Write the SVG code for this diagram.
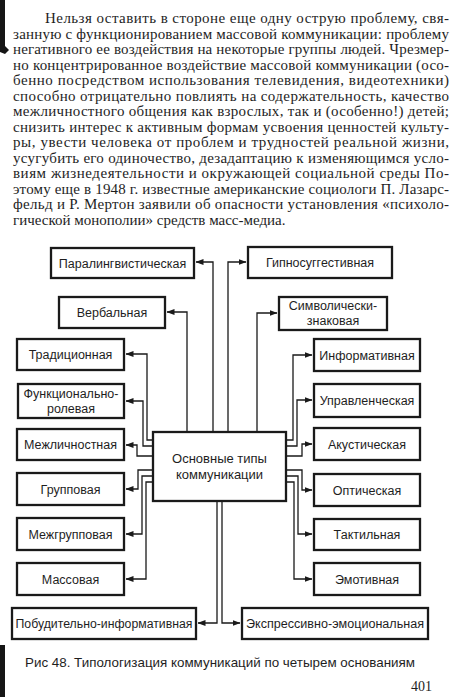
<svg xmlns="http://www.w3.org/2000/svg" width="456" height="697" viewBox="0 0 456 697">
<style>
.body{font-family:"Liberation Serif","Times New Roman",serif;font-size:15px;fill:#1e1e1e}
.box rect{fill:#fff;stroke:#1a1a1a;stroke-width:2.3}
.box text{font-family:"Liberation Sans",Arial,sans-serif;font-size:12.5px;fill:#1e1e1e;text-anchor:middle}
.cap{font-family:"Liberation Sans",Arial,sans-serif;font-size:13px;fill:#1e1e1e}
.conn path{fill:none;stroke:#1a1a1a;stroke-width:1.3;marker-end:url(#ah)}
</style>
<defs>
<marker id="ah" markerUnits="userSpaceOnUse" markerWidth="8" markerHeight="7" refX="7.5" refY="3" orient="auto">
<path d="M0,0 L8,3 L0,6 z" fill="#1a1a1a"/>
</marker>
</defs>
<rect x="0" y="0" width="456" height="697" fill="#fff"/>
<path d="M0,0 H5 V46 L9,50 L5,54 L0,52 z" fill="#151515"/>
<rect x="0" y="645" width="5" height="52" fill="#151515"/>

<g id="paragraph" class="body">
<text x="45" y="23" textLength="404" lengthAdjust="spacing">Нельзя оставить в стороне еще одну острую проблему, свя-</text>
<text x="13" y="38.5" textLength="436" lengthAdjust="spacing">занную с функционированием массовой коммуникации: проблему</text>
<text x="13" y="54" textLength="436" lengthAdjust="spacing">негативного ее воздействия на некоторые группы людей. Чрезмер-</text>
<text x="13" y="69.5" textLength="436" lengthAdjust="spacing">но концентрированное воздействие массовой коммуникации (осо-</text>
<text x="13" y="85" textLength="436" lengthAdjust="spacing">бенно посредством использования телевидения, видеотехники)</text>
<text x="13" y="100.5" textLength="436" lengthAdjust="spacing">способно отрицательно повлиять на содержательность, качество</text>
<text x="13" y="116" textLength="436" lengthAdjust="spacing">межличностного общения как взрослых, так и (особенно!) детей;</text>
<text x="13" y="131.5" textLength="436" lengthAdjust="spacing">снизить интерес к активным формам усвоения ценностей культу-</text>
<text x="13" y="147" textLength="436" lengthAdjust="spacing">ры, увести человека от проблем и трудностей реальной жизни,</text>
<text x="13" y="162.5" textLength="436" lengthAdjust="spacing">усугубить его одиночество, дезадаптацию к изменяющимся усло-</text>
<text x="13" y="178" textLength="436" lengthAdjust="spacing">виям жизнедеятельности и окружающей социальной среды  По-</text>
<text x="13" y="193.5" textLength="436" lengthAdjust="spacing">этому еще в 1948 г. известные американские социологи П. Лазарс-</text>
<text x="13" y="209" textLength="436" lengthAdjust="spacing">фельд и Р. Мертон заявили об опасности установления «психоло-</text>
<text x="13" y="224.5">гической монополии» средств масс-медиа.</text>
</g>

<g id="connectors" class="conn">
<path d="M213,432 V262 H196"/>
<path d="M187,432 V312 H167"/>
<path d="M153,440 H147 V354 H126"/>
<path d="M153,446 H143 V401 H126"/>
<path d="M153,456 H137 V445 H126"/>
<path d="M153,470 H138 V489 H126"/>
<path d="M153,476 H142 V534 H126"/>
<path d="M153,482 H146 V579 H126"/>
<path d="M228,432 V262 H246"/>
<path d="M257,432 V313 H277"/>
<path d="M286,440 H293 V355 H312"/>
<path d="M286,446 H297 V400 H312"/>
<path d="M286,456 H302 V444 H312"/>
<path d="M286,470 H302 V490 H312"/>
<path d="M286,476 H298 V534 H312"/>
<path d="M286,482 H294 V579 H312"/>
<path d="M217,501 V623 H198"/>
<path d="M222,501 V623 H240"/>
</g>

<g id="center" class="box"><rect x="153" y="432" width="133" height="69"/><text x="219.5" y="463" style="font-size:13px">Основные типы</text><text x="219.5" y="479" style="font-size:13px">коммуникации</text></g>

<g id="paralinguistic" class="box"><rect x="51" y="248" width="143" height="30"/><text x="122.5" y="267.5">Паралингвистическая</text></g>
<g id="verbal" class="box"><rect x="59" y="297" width="106" height="31"/><text x="112" y="317">Вербальная</text></g>
<g id="traditional" class="box"><rect x="17" y="339" width="107" height="31"/><text x="70.5" y="359">Традиционная</text></g>
<g id="functional" class="box"><rect x="18" y="384" width="106" height="34"/><text x="71" y="398">Функционально-</text><text x="71" y="413">ролевая</text></g>
<g id="interpersonal" class="box"><rect x="17" y="429" width="107" height="31"/><text x="70.5" y="449">Межличностная</text></g>
<g id="group" class="box"><rect x="17" y="473" width="107" height="32"/><text x="70.5" y="493.5">Групповая</text></g>
<g id="intergroup" class="box"><rect x="17" y="518" width="107" height="32"/><text x="70.5" y="538.5">Межгрупповая</text></g>
<g id="mass" class="box"><rect x="17" y="563" width="107" height="32"/><text x="70.5" y="583.5">Массовая</text></g>
<g id="motivational" class="box"><rect x="12" y="608" width="184" height="31"/><text x="104" y="628" textLength="177" lengthAdjust="spacingAndGlyphs">Побудительно-информативная</text></g>

<g id="hypnosuggestive" class="box"><rect x="248" y="247" width="144" height="31"/><text x="320" y="267">Гипносуггестивная</text></g>
<g id="symbolic" class="box"><rect x="279" y="297" width="108" height="33"/><text x="333" y="310">Символически-</text><text x="333" y="325">знаковая</text></g>
<g id="informative" class="box"><rect x="314" y="339" width="106" height="32"/><text x="367" y="359.5">Информативная</text></g>
<g id="managerial" class="box"><rect x="314" y="384" width="106" height="33"/><text x="367" y="405">Управленческая</text></g>
<g id="acoustic" class="box"><rect x="314" y="428" width="106" height="32"/><text x="367" y="448.5">Акустическая</text></g>
<g id="optical" class="box"><rect x="314" y="474" width="106" height="32"/><text x="367" y="494.5">Оптическая</text></g>
<g id="tactile" class="box"><rect x="314" y="519" width="106" height="31"/><text x="367" y="539">Тактильная</text></g>
<g id="emotive" class="box"><rect x="314" y="563" width="106" height="32"/><text x="367" y="583.5">Эмотивная</text></g>
<g id="expressive" class="box"><rect x="242" y="608" width="186" height="31"/><text x="335" y="628" textLength="178" lengthAdjust="spacingAndGlyphs">Экспрессивно-эмоциональная</text></g>

<text class="cap" x="25" y="667" textLength="390" lengthAdjust="spacingAndGlyphs">Рис  48. Типологизация коммуникаций по четырем основаниям</text>
<text class="body" x="411" y="691" style="font-size:14px">401</text>
</svg>
